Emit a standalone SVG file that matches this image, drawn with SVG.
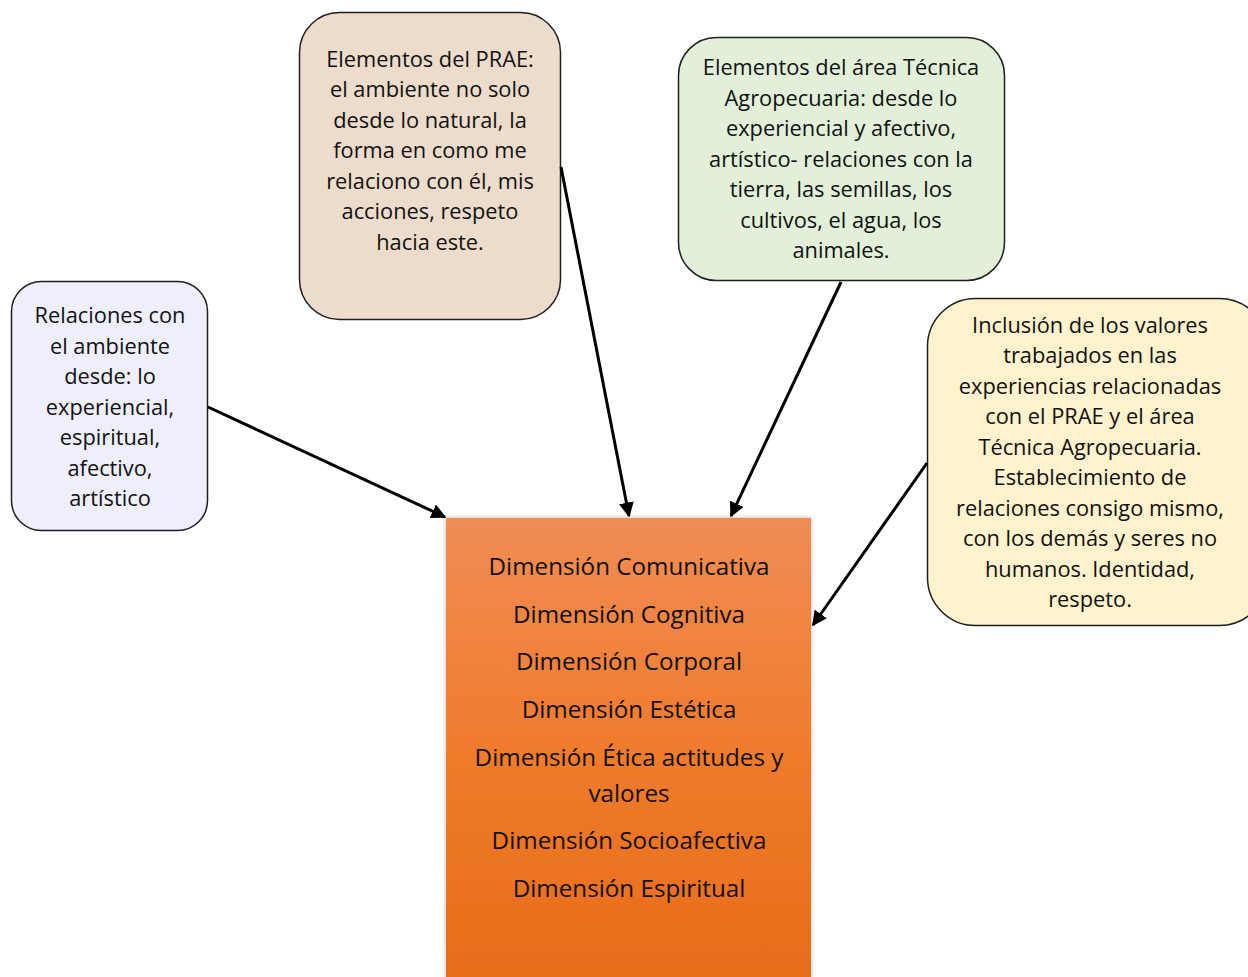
<svg xmlns="http://www.w3.org/2000/svg" width="1248" height="977" viewBox="0 0 1248 977">
<defs>
<linearGradient id="og" x1="0" y1="0" x2="0" y2="1">
<stop offset="0" stop-color="#f08d55"/>
<stop offset="0.5" stop-color="#f07b2c"/>
<stop offset="1" stop-color="#e66c18"/>
</linearGradient>
<marker id="ah" viewBox="0 0 10 10" refX="9" refY="5" markerWidth="5" markerHeight="5" orient="auto" markerUnits="strokeWidth">
<path d="M0,0 L10,5 L0,10 z" fill="#000"/>
</marker>
<filter id="sh" x="-5%" y="-5%" width="110%" height="110%">
<feDropShadow dx="0" dy="0" stdDeviation="2" flood-color="#000" flood-opacity="0.3"/>
</filter>
</defs>
<style>
.box{stroke:#1f1f1f;stroke-width:1.5}
.t{font-family:"Open Sans","Noto Sans","Liberation Sans",sans-serif;font-size:21.8px;fill:#111;text-anchor:middle}
.d{font-family:"Open Sans","Noto Sans","Liberation Sans",sans-serif;font-size:24.2px;fill:#111;text-anchor:middle}
.c{stroke:#000;stroke-width:3;fill:none;marker-end:url(#ah)}
</style>
<rect width="1248" height="977" fill="#fff"/>
<g id="n-relaciones">
<rect class="box" x="11.5" y="281.5" width="196" height="249" rx="30" fill="#efeffc"/>
<text class="t" x="110" y="323">Relaciones con</text>
<text class="t" x="110" y="354">el ambiente</text>
<text class="t" x="110" y="384">desde: lo</text>
<text class="t" x="110" y="415">experiencial,</text>
<text class="t" x="110" y="445">espiritual,</text>
<text class="t" x="110" y="476">afectivo,</text>
<text class="t" x="110" y="506">artístico</text>
</g>
<g id="n-prae">
<rect class="box" x="299.5" y="12.5" width="261" height="307" rx="40" fill="#eddccb"/>
<text class="t" x="430" y="67">Elementos del PRAE:</text>
<text class="t" x="430" y="97">el ambiente no solo</text>
<text class="t" x="430" y="128">desde lo natural, la</text>
<text class="t" x="430" y="158">forma en como me</text>
<text class="t" x="430" y="189">relaciono con él, mis</text>
<text class="t" x="430" y="219">acciones, respeto</text>
<text class="t" x="430" y="250">hacia este.</text>
</g>
<g id="n-tecnica">
<rect class="box" x="678.5" y="37.5" width="326" height="243" rx="38" fill="#e2f0d9"/>
<text class="t" x="841" y="75">Elementos del área Técnica</text>
<text class="t" x="841" y="106">Agropecuaria: desde lo</text>
<text class="t" x="841" y="136">experiencial y afectivo,</text>
<text class="t" x="841" y="167">artístico- relaciones con la</text>
<text class="t" x="841" y="197">tierra, las semillas, los</text>
<text class="t" x="841" y="228">cultivos, el agua, los</text>
<text class="t" x="841" y="258">animales.</text>
</g>
<g id="n-inclusion">
<rect class="box" x="927.5" y="298.5" width="340" height="327" rx="48" fill="#fff2cc"/>
<text class="t" x="1090" y="333">Inclusión de los valores</text>
<text class="t" x="1090" y="363">trabajados en las</text>
<text class="t" x="1090" y="394">experiencias relacionadas</text>
<text class="t" x="1090" y="424">con el PRAE y el área</text>
<text class="t" x="1090" y="455">Técnica Agropecuaria.</text>
<text class="t" x="1090" y="485">Establecimiento de</text>
<text class="t" x="1090" y="516">relaciones consigo mismo,</text>
<text class="t" x="1090" y="546">con los demás y seres no</text>
<text class="t" x="1090" y="577">humanos. Identidad,</text>
<text class="t" x="1090" y="607">respeto.</text>
</g>
<g id="n-dimensiones">
<rect x="446" y="518" width="365" height="470" fill="url(#og)" filter="url(#sh)"/>
<text class="d" x="629" y="575">Dimensión Comunicativa</text>
<text class="d" x="629" y="623">Dimensión Cognitiva</text>
<text class="d" x="629" y="670">Dimensión Corporal</text>
<text class="d" x="629" y="718">Dimensión Estética</text>
<text class="d" x="629" y="766">Dimensión Ética actitudes y</text>
<text class="d" x="629" y="802">valores</text>
<text class="d" x="629" y="849">Dimensión Socioafectiva</text>
<text class="d" x="629" y="897">Dimensión Espiritual</text>
</g>
<g id="connectors">
<line class="c" x1="208" y1="407" x2="445" y2="517"/>
<line class="c" x1="561" y1="167" x2="629" y2="516"/>
<line class="c" x1="841" y1="282" x2="731" y2="516"/>
<line class="c" x1="927" y1="463" x2="813" y2="625"/>
</g>
</svg>
